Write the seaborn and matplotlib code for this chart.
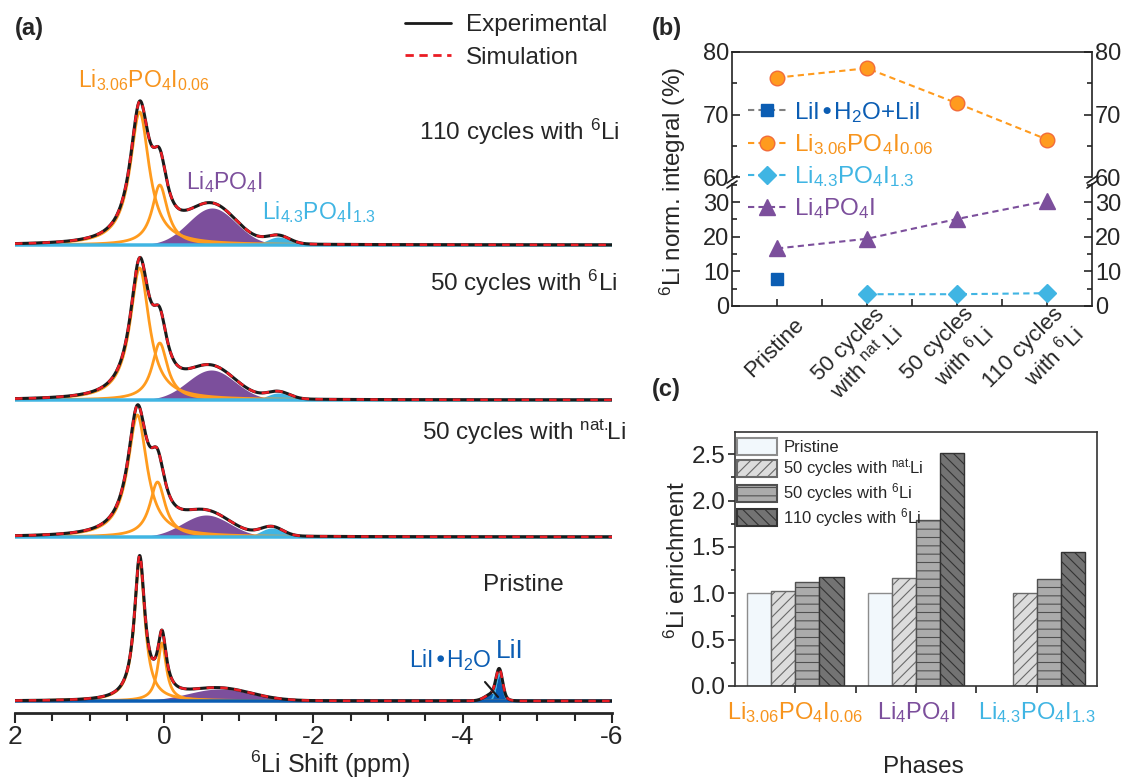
import numpy as np
import pandas as pd
import matplotlib
matplotlib.use("Agg")
import matplotlib.pyplot as plt
import matplotlib.patches as mpatches
from matplotlib.lines import Line2D
from matplotlib.ticker import MultipleLocator, FixedLocator
from matplotlib.transforms import ScaledTranslation
import seaborn as sns

# ---------------- data ----------------
# (a) fitted components of the 6Li spectra (position ppm, height, fwhm ppm)
spectra = ["110 cycles with $^{6}$Li", "50 cycles with $^{6}$Li",
           "50 cycles with $^{nat.\\!\\!}$Li", "Pristine"]
li306_a_pos = [0.33, 0.33, 0.36, 0.33]
li306_a_height = [133, 132, 122, 142]
li306_a_fwhm = [0.31, 0.31, 0.31, 0.17]
li306_b_pos = [0.06, 0.06, 0.09, 0.03]
li306_b_height = [60, 57, 55, 58]
li306_b_fwhm = [0.25, 0.25, 0.25, 0.14]
li4_pos = [-0.64, -0.63, -0.56, -0.74]
li4_height = [37, 30, 22, 12]
li4_fwhm = [0.75, 0.75, 0.75, 1.0]
li43_pos = [-1.53, -1.53, -1.44, -1.50]
li43_height = [8, 7, 9, 0]
li43_fwhm = [0.35, 0.35, 0.35, 0.35]
lii_pos = [-4.49, -4.49, -4.49, -4.49]
lii_height = [0, 0, 0, 26]
lii_fwhm = [0.10, 0.10, 0.10, 0.10]
liih2o_pos = [-4.42, -4.42, -4.42, -4.42]
liih2o_height = [0, 0, 0, 8]
liih2o_fwhm = [0.25, 0.25, 0.25, 0.25]

# (b) normalised integrals (%)
stages = ["Pristine", "50 cycles\nwith $^{nat}$.Li", "50 cycles\nwith $^{6}$Li",
          "110 cycles\nwith $^{6}$Li"]
lii_integral = [7.8, np.nan, np.nan, np.nan]
li306_integral = [75.9, 77.4, 71.8, 66.0]
li43_integral = [np.nan, 3.4, 3.4, 3.7]
li4_integral = [16.6, 19.4, 25.1, 30.3]

# (c) 6Li enrichment
phases = [r"Li$_{3.06}$PO$_4$I$_{0.06}$", r"Li$_4$PO$_4$I", r"Li$_{4.3}$PO$_4$I$_{1.3}$"]
samples = ["Pristine", "50 cycles with $^{nat.\\!\\!}$Li", "50 cycles with $^{6}$Li",
           "110 cycles with $^{6}$Li"]
enrich_pristine = [1.00, 1.00, np.nan]
enrich_nat = [1.02, 1.17, 1.00]
enrich_50 = [1.12, 1.79, 1.15]
enrich_110 = [1.18, 2.51, 1.45]

# ---------------- style ----------------
sns.set_theme(style="ticks")
plt.rcParams["font.family"] = ["Liberation Sans", "DejaVu Sans"]
plt.rcParams["mathtext.default"] = "regular"
plt.rcParams["axes.unicode_minus"] = False
plt.rcParams["hatch.linewidth"] = 0.8

orange = "#ff9b1e"
orange_txt = "#f7941d"
purple = "#7c4f9c"
cyan = "#40b5e3"
blue = "#0b5db3"
red = "#ea1c24"

W, H = 1126, 778
fig = plt.figure(figsize=(W / 100, H / 100), dpi=100)


def box(left, top, right, bottom):
    return [left / W, 1 - bottom / H, (right - left) / W, (bottom - top) / H]


def fx(px):
    return px / W


def fy(py):
    return 1 - py / H


def lorentz(x, x0, h, w):
    return h / (1 + ((x - x0) / (w / 2)) ** 2)


def gauss(x, x0, h, w):
    return h * np.exp(-4 * np.log(2) * ((x - x0) / w) ** 2)


# ---------------- (a) ----------------
ax_a = fig.add_axes(box(15, 40, 612, 713))
shift = np.linspace(2, -6, 2400)
offsets = [468, 313, 176, 12]
for i in range(4):
    base = offsets[i]
    o1 = lorentz(shift, li306_a_pos[i], li306_a_height[i], li306_a_fwhm[i])
    o2 = lorentz(shift, li306_b_pos[i], li306_b_height[i], li306_b_fwhm[i])
    p4 = gauss(shift, li4_pos[i], li4_height[i], li4_fwhm[i])
    c43 = gauss(shift, li43_pos[i], li43_height[i], li43_fwhm[i])
    b1 = gauss(shift, lii_pos[i], lii_height[i], lii_fwhm[i])
    b2 = gauss(shift, liih2o_pos[i], liih2o_height[i], liih2o_fwhm[i])
    total = o1 + o2 + p4 + c43 + b1 + b2
    ax_a.fill_between(shift, base, base + p4, color=purple, lw=0, zorder=2)
    if li43_height[i] > 0:
        ax_a.fill_between(shift, base, base + c43, color=cyan, lw=0, zorder=2)
    if lii_height[i] > 0:
        ax_a.fill_between(shift, base, base + b2, color=blue, lw=0, zorder=2)
        ax_a.fill_between(shift, base, base + b1, color=blue, lw=0, zorder=2)
        ax_a.plot(shift, base + b1, color=cyan, lw=1.2, zorder=2)
    ax_a.plot(shift, base + o1, color=orange, lw=2, zorder=3)
    ax_a.plot(shift, base + o2, color=orange, lw=2, zorder=3)
    ax_a.plot(shift, np.full_like(shift, base), color=blue if lii_height[i] > 0 else cyan,
              lw=2.5, zorder=3)
    sns.lineplot(x=shift, y=base + total, color="k", lw=2.2, zorder=4, ax=ax_a,
                 estimator=None, sort=False)
    ax_a.plot(shift, base + total, color=red, lw=1.8, ls=(0, (3, 2.5)), zorder=5)

ax_a.set_xlim(2, -6)
ax_a.set_ylim(0, 673)
ax_a.set_xticks([2, 0, -2, -4, -6])
ax_a.set_xticklabels(["2", "0", "-2", "-4", "-6"])
ax_a.xaxis.set_minor_locator(MultipleLocator(0.5))
ax_a.set_yticks([])
for s in ["left", "right", "top"]:
    ax_a.spines[s].set_visible(False)
ax_a.spines["bottom"].set_linewidth(2)
ax_a.tick_params(axis="x", which="major", direction="out", length=7, width=1.5,
                 labelsize=19, pad=2)
ax_a.tick_params(axis="x", which="minor", direction="out", length=6, width=1.5)
ax_a.set_facecolor("none")
fig.text(fx(330), fy(764), "$^{6}$Li Shift (ppm)", fontsize=18, ha="center", va="center")

fig.text(fx(15), fy(28), "(a)", fontsize=17, fontweight="bold", ha="left", va="center")
leg_a = fig.legend(handles=[Line2D([], [], color="k", lw=2),
                            Line2D([], [], color=red, lw=2, ls=(0, (3, 2)))],
                   labels=["Experimental", "Simulation"], loc="upper left",
                   bbox_to_anchor=(fx(405), fy(14)), frameon=False, fontsize=17.5,
                   handlelength=1.9, handletextpad=0.6, labelspacing=0.45,
                   borderpad=0, borderaxespad=0)

trace_label_pos = [(620, 132), (617, 283), (626, 432), (564, 585)]
for lab, (px, py) in zip(spectra, trace_label_pos):
    fig.text(fx(px), fy(py), lab, fontsize=17.5, ha="right", va="center")

fig.text(fx(78), fy(80), phases[0], fontsize=16.5, color=orange_txt, ha="left", va="center")
fig.text(fx(186), fy(182), phases[1], fontsize=16.5, color=purple, ha="left", va="center")
fig.text(fx(262), fy(212), phases[2], fontsize=16.5, color=cyan, ha="left", va="center")
fig.text(fx(409), fy(660), "LiI•H$_2$O", fontsize=16.5, color=blue, ha="left", va="center")
fig.text(fx(496), fy(651), "LiI", fontsize=19, color=blue, ha="left", va="center")
fig.add_artist(Line2D([fx(485), fx(498)], [fy(682), fy(697)], color="k", lw=1.5))

# ---------------- (b) ----------------
ax_bt = fig.add_axes(box(732, 52, 1092, 177))
ax_bb = fig.add_axes(box(732, 184, 1092, 306))
pos = np.arange(len(stages))
series = [
    (lii_integral, "s", blue, blue, 8, "#808080"),
    (li306_integral, "o", orange, "#f26b3a", 10.5, orange),
    (li43_integral, "D", cyan, cyan, 9, cyan),
    (li4_integral, "^", purple, purple, 11, purple),
]
for ax in (ax_bt, ax_bb):
    for vals, mk, fc, ec, ms, lc in series:
        sns.lineplot(x=pos, y=vals, ax=ax, color=lc, lw=1.5, ls=(0, (3, 2)),
                     marker=mk, markersize=ms, markerfacecolor=fc,
                     markeredgecolor=ec, markeredgewidth=1)
    ax.set_xlim(-0.5, 3.5)
    ax.tick_params(axis="y", which="major", direction="in", length=6, width=1.2,
                   labelsize=17, right=True, labelright=True, pad=2)
    ax.tick_params(axis="y", which="minor", direction="in", length=3.5, width=1.2,
                   right=True)
    for s in ax.spines.values():
        s.set_linewidth(1.2)
        s.set_color("#222222")
    ax.set_facecolor("none")

ax_bt.set_ylim(60, 80)
ax_bt.set_yticks([60, 70, 80])
ax_bt.yaxis.set_minor_locator(MultipleLocator(5))
ax_bt.spines["bottom"].set_visible(False)
ax_bt.set_xticks([])

ax_bb.set_ylim(0, 35.2)
ax_bb.set_yticks([0, 10, 20, 30])
ax_bb.yaxis.set_minor_locator(MultipleLocator(5))
ax_bb.spines["top"].set_visible(False)
ax_bb.set_xticks(pos)
ax_bb.set_xticklabels(stages)
ax_bb.xaxis.set_minor_locator(FixedLocator([0.5, 1.5, 2.5]))
ax_bb.tick_params(axis="x", which="both", direction="in", length=5, width=1.2,
                  labelsize=16, pad=4)
for lab in ax_bb.get_xticklabels():
    lab.set_rotation(45)
    lab.set_ha("right")
    lab.set_va("center")
    lab.set_rotation_mode("anchor")
    lab.set_transform(lab.get_transform() + ScaledTranslation(0.24, -0.1, fig.dpi_scale_trans))

for xs in (732, 1092):
    for dy in (0, 5):
        fig.add_artist(Line2D([fx(xs - 5), fx(xs + 5)], [fy(183 + dy), fy(176 + dy)],
                              color="#222222", lw=1.2))

fig.text(fx(673), fy(181), "$^{6}$Li norm. integral (%)", fontsize=17.5, rotation=90,
         ha="center", va="center")
fig.text(fx(652), fy(28), "(b)", fontsize=17, fontweight="bold", ha="left", va="center")

leg_labels = ["LiI•H$_2$O+LiI", phases[0], phases[2], phases[1]]
leg_handles = [Line2D([], [], color=lc, lw=1.5, ls=(0, (3, 2)), marker=mk, markersize=ms,
                      markerfacecolor=fc, markeredgecolor=ec) for _, mk, fc, ec, ms, lc in series]
leg_b = fig.legend(handles=leg_handles, labels=leg_labels, loc="upper left",
                   bbox_to_anchor=(fx(748), fy(100)), frameon=False, fontsize=17.5,
                   handlelength=1.6, handletextpad=0.3, labelspacing=0.3,
                   borderpad=0, borderaxespad=0)
for t, c in zip(leg_b.get_texts(), [blue, orange_txt, cyan, purple]):
    t.set_color(c)

# ---------------- (c) ----------------
ax_c = fig.add_axes(box(735, 432, 1097, 686))
df = pd.DataFrame({
    "phase": phases * 4,
    "sample": np.repeat(samples, len(phases)),
    "value": enrich_pristine + enrich_nat + enrich_50 + enrich_110,
}).dropna()
faces = ["#f2f8fc", "#dcdcdc", "#ababab", "#737373"]
edges = ["#8c8c8c", "#6a6a6a", "#505050", "#333333"]
hatches = ["", "///", "--", "\\\\\\"]
sns.barplot(data=df, x="phase", y="value", hue="sample", order=phases, hue_order=samples,
            palette=faces, saturation=1, width=0.8, gap=0, legend=False, ax=ax_c,
            linewidth=1.0)
for cont, e, h in zip(ax_c.containers, edges, hatches):
    for bar in cont:
        bar.set_edgecolor(e)
        bar.set_hatch(h)

ax_c.set_xlim(-0.5, 2.5)
ax_c.set_ylim(0, 2.74)
ax_c.set_yticks([0, 0.5, 1.0, 1.5, 2.0, 2.5])
ax_c.set_yticklabels(["0.0", "0.5", "1.0", "1.5", "2.0", "2.5"])
ax_c.yaxis.set_minor_locator(MultipleLocator(0.25))
ax_c.xaxis.set_minor_locator(FixedLocator([0.5, 1.5]))
ax_c.set_xticks([0, 1, 2])
ax_c.set_xticklabels(phases)
ax_c.set_xlabel("")
ax_c.set_ylabel("")
ax_c.tick_params(axis="y", which="major", direction="out", length=5, width=1.2,
                 labelsize=17.5, pad=2)
ax_c.tick_params(axis="y", which="minor", direction="out", length=3, width=1.2)
ax_c.tick_params(axis="x", which="both", direction="out", length=5, width=1.2,
                 labelsize=17, pad=5)
for lab, c in zip(ax_c.get_xticklabels(), [orange_txt, purple, cyan]):
    lab.set_color(c)
for s in ax_c.spines.values():
    s.set_linewidth(1.2)
    s.set_color("#333333")

leg_c_handles = [mpatches.Patch(facecolor=f, edgecolor=e, hatch=h, linewidth=1.5)
                 for f, e, h in zip(faces, edges, hatches)]
ax_c.legend(handles=leg_c_handles, labels=samples, loc="upper left",
            bbox_to_anchor=(0.0, 0.985), frameon=False, fontsize=12,
            handlelength=2.4, handleheight=1.2, handletextpad=0.35,
            labelspacing=0.1, borderpad=0, borderaxespad=0.15)

fig.text(fx(677), fy(560), "$^{6}$Li enrichment", fontsize=17.5, rotation=90,
         ha="center", va="center")
fig.text(fx(923), fy(767), "Phases", fontsize=17.5, ha="center", va="center")
fig.text(fx(652), fy(390), "(c)", fontsize=17, fontweight="bold", ha="left", va="center")

fig.savefig("out.png", dpi=100)
